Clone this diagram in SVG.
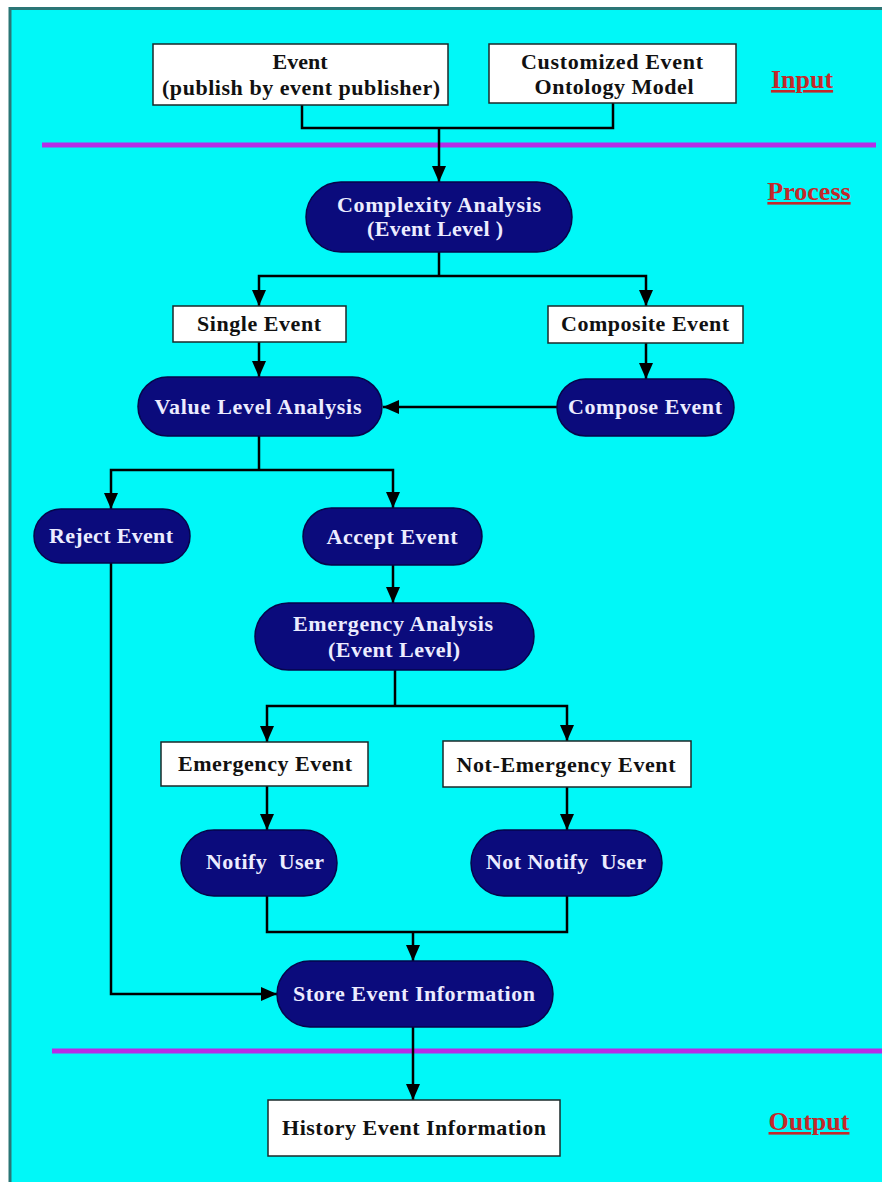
<svg xmlns="http://www.w3.org/2000/svg" width="882" height="1182" viewBox="0 0 882 1182">
<defs>
<marker id="ah" markerUnits="userSpaceOnUse" markerWidth="16" markerHeight="16" viewBox="0 0 16 16" refX="16" refY="8" orient="auto">
<path d="M0,1 L16,8 L0,15 Z" fill="#000"/>
</marker>
<style>
.box{fill:#fff;stroke:#1a2a2a;stroke-width:1.5}
.pill{fill:#0b0b7c;stroke:#05054a;stroke-width:1.5}
.bt{font-family:"Liberation Serif","Times New Roman",serif;font-weight:bold;font-size:22px;fill:#111;text-anchor:middle}
.pt{font-family:"Liberation Serif","Times New Roman",serif;font-weight:bold;font-size:22px;fill:#ececff;text-anchor:middle}
.lab{font-family:"Liberation Serif","Times New Roman",serif;font-weight:bold;font-size:26px;fill:#c4282a;text-decoration:underline;text-anchor:middle}
.sep{stroke:#b52de6;stroke-width:5}
.c{fill:none;stroke:#000;stroke-width:2.5}
.ca{fill:none;stroke:#000;stroke-width:2.5;marker-end:url(#ah)}
</style>
</defs>
<rect x="0" y="0" width="882" height="1182" fill="#fff"/>
<rect x="10" y="8.5" width="900" height="1200" fill="#00f8f8" stroke="#2a7676" stroke-width="3"/>
<line class="sep" x1="42" y1="145" x2="876" y2="145"/>
<line class="sep" x1="52" y1="1051" x2="882" y2="1051"/>
<g id="labels">
<text class="lab" x="802" y="88">Input</text>
<text class="lab" x="809" y="200">Process</text>
<text class="lab" x="809" y="1130">Output</text>
</g>
<g id="connectors">
<polyline class="c" points="302,105 302,128 613,128 613,103"/>
<line class="ca" x1="439" y1="128" x2="439" y2="182"/>
<polyline class="c" points="439,252 439,276"/>
<polyline class="ca" points="439,276 259,276 259,306"/>
<polyline class="ca" points="439,276 646,276 646,306"/>
<line class="ca" x1="259" y1="342" x2="259" y2="377"/>
<line class="ca" x1="646" y1="343" x2="646" y2="379"/>
<line class="ca" x1="557" y1="407" x2="383" y2="407"/>
<polyline class="c" points="259,436 259,470"/>
<polyline class="ca" points="259,470 111,470 111,509"/>
<polyline class="ca" points="259,470 393,470 393,508"/>
<line class="ca" x1="393" y1="565" x2="393" y2="603"/>
<polyline class="c" points="395,670 395,706"/>
<polyline class="ca" points="395,706 267,706 267,742"/>
<polyline class="ca" points="395,706 567,706 567,741"/>
<line class="ca" x1="267" y1="786" x2="267" y2="830"/>
<line class="ca" x1="567" y1="787" x2="567" y2="830"/>
<polyline class="c" points="267,896 267,932 567,932 567,896"/>
<line class="ca" x1="413" y1="932" x2="413" y2="961"/>
<polyline class="ca" points="111,563 111,994 277,994"/>
<line class="ca" x1="413" y1="1027" x2="413" y2="1100"/>
</g>
<g id="n-event">
<rect class="box" x="153" y="44" width="295" height="61"/>
<text class="bt" x="300" y="69">Event</text>
<text class="bt" x="301" y="95" textLength="278">(publish by event publisher)</text>
</g>
<g id="n-ontology">
<rect class="box" x="489" y="44" width="247" height="59"/>
<text class="bt" x="612" y="69" textLength="182">Customized Event</text>
<text class="bt" x="614" y="94" textLength="159">Ontology Model</text>
</g>
<g id="n-complexity">
<rect class="pill" x="306" y="182" width="266" height="70" rx="35"/>
<text class="pt" x="439" y="212" textLength="204">Complexity Analysis</text>
<text class="pt" x="435" y="236" textLength="136">(Event Level )</text>
</g>
<g id="n-single">
<rect class="box" x="173" y="306" width="173" height="36"/>
<text class="bt" x="259" y="331" textLength="124">Single Event</text>
</g>
<g id="n-composite">
<rect class="box" x="548" y="306" width="195" height="37"/>
<text class="bt" x="645" y="331" textLength="168">Composite Event</text>
</g>
<g id="n-value">
<rect class="pill" x="138" y="377" width="244" height="59" rx="29.5"/>
<text class="pt" x="258" y="414" textLength="207">Value Level Analysis</text>
</g>
<g id="n-compose">
<rect class="pill" x="557" y="379" width="177" height="57" rx="28.5"/>
<text class="pt" x="645" y="414" textLength="154">Compose Event</text>
</g>
<g id="n-reject">
<rect class="pill" x="34" y="509" width="156" height="54" rx="27"/>
<text class="pt" x="111" y="543" textLength="124">Reject Event</text>
</g>
<g id="n-accept">
<rect class="pill" x="303" y="508" width="179" height="57" rx="28.5"/>
<text class="pt" x="392" y="544" textLength="131">Accept Event</text>
</g>
<g id="n-emergency-analysis">
<rect class="pill" x="255" y="603" width="279" height="67" rx="33.5"/>
<text class="pt" x="393" y="631" textLength="200">Emergency Analysis</text>
<text class="pt" x="394" y="657" textLength="132">(Event Level)</text>
</g>
<g id="n-emergency">
<rect class="box" x="161" y="742" width="207" height="44"/>
<text class="bt" x="265" y="771" textLength="174">Emergency Event</text>
</g>
<g id="n-not-emergency">
<rect class="box" x="443" y="741" width="248" height="46"/>
<text class="bt" x="566" y="772" textLength="219">Not-Emergency Event</text>
</g>
<g id="n-notify">
<rect class="pill" x="181" y="830" width="156" height="66" rx="33"/>
<text class="pt" x="265" y="869" textLength="118" xml:space="preserve">Notify  User</text>
</g>
<g id="n-not-notify">
<rect class="pill" x="471" y="830" width="191" height="66" rx="33"/>
<text class="pt" x="566" y="869" textLength="160" xml:space="preserve">Not Notify  User</text>
</g>
<g id="n-store">
<rect class="pill" x="277" y="961" width="276" height="66" rx="33"/>
<text class="pt" x="414" y="1001" textLength="242">Store Event Information</text>
</g>
<g id="n-history">
<rect class="box" x="268" y="1100" width="292" height="56"/>
<text class="bt" x="414" y="1135" textLength="264">History Event Information</text>
</g>
</svg>
